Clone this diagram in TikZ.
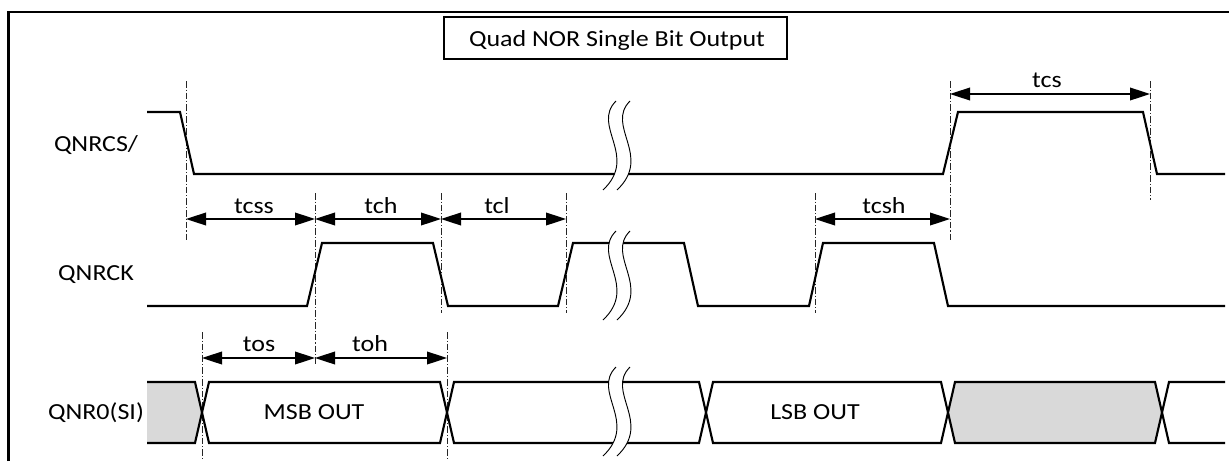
\documentclass[tikz,border=0pt]{standalone}
\usepackage{fontspec}
\setmainfont{Carlito}[FakeStretch=1.13]
\usetikzlibrary{arrows.meta}
\definecolor{busgray}{RGB}{217,217,217}
\tikzset{
  x=0.75pt, y=-0.75pt,
  sig/.style={line width=1.6pt, line join=miter},
  guide/.style={line width=0.6pt, black!85, dash pattern=on 5pt off 1.5pt on 0.8pt off 1.5pt},
  dimarrow/.style={line width=1.2pt, {Triangle[length=15pt,width=9.5pt]}-{Triangle[length=15pt,width=9.5pt]}},
  lbl/.style={anchor=base, inner sep=0pt, font=\fontsize{17.25}{20}\selectfont},
  brk/.style={line width=0.7pt},
  titlebox/.style={draw, line width=1.1pt, minimum width=343*0.75pt, minimum height=42*0.75pt, inner sep=0pt}
}
\newcommand\brkmark[2]{%
  \begin{scope}[shift={(#1,#2)}]
    \fill[white] (13,0) .. controls (-12,25) and (36,55) .. (0,89) -- (14,89) .. controls (50,55) and (2,25) .. (27,0) -- cycle;
    \draw[brk] (13,0) .. controls (-12,25) and (36,55) .. (0,89);
    \draw[brk] (27,0) .. controls (2,25) and (50,55) .. (14,89);
  \end{scope}}
\begin{document}
\begin{tikzpicture}
\useasboundingbox (0,0) rectangle (1229,461);
% frame
\draw[line width=1.6pt] (8.5,461) -- (8.5,12) -- (1229,12);
% title
\node[titlebox] (title) at (615.5,38) {};
\node[lbl] (titletext) at (617,46) {Quad NOR Single Bit Output};

% guide lines
\coordinate (g1t) at (186,81);   \coordinate (g1b) at (186,240);
\coordinate (g2t) at (315,193);  \coordinate (g2b) at (315,365);
\coordinate (g3t) at (441,193);  \coordinate (g3b) at (441,313);
\coordinate (g4t) at (566,193);  \coordinate (g4b) at (566,313);
\coordinate (g5t) at (815,193);  \coordinate (g5b) at (815,313);
\coordinate (g6t) at (950,81);   \coordinate (g6b) at (950,240);
\coordinate (g7t) at (1150,81);  \coordinate (g7b) at (1150,200);
\coordinate (g8t) at (202,332);  \coordinate (g8b) at (202,461);
\coordinate (g9t) at (447,332);  \coordinate (g9b) at (447,461);
\foreach \i in {1,...,9} { \draw[guide] (g\i t) -- (g\i b); }

% signal labels
\node[lbl] (lcs) at (96,151) {QNRCS/};
\node[lbl] (lck) at (96,280) {QNRCK};
\node[lbl] (lsi) at (96,419) {QNR0(SI)};

% QNRCS/
\draw[sig] (147,112) -- (180,112) -- (194,174) -- (943,174) -- (958,112) -- (1143,112) -- (1157,174) -- (1225,174);
% QNRCK
\draw[sig] (147,306) -- (307,306) -- (322,243) -- (433,243) -- (448,306) -- (558,306) -- (573,243)
  -- (684,243) -- (698,306) -- (809,306) -- (823,243) -- (934,243) -- (948,306) -- (1225,306);
% QNR0(SI) bus
\fill[busgray] (147,382) -- (195,382) -- (202,412.5) -- (195,443) -- (147,443) -- cycle;
\draw[sig] (147,382) -- (195,382) -- (202,412.5) -- (195,443) -- (147,443);
\draw[sig] (202,412.5) -- (209,382) -- (440,382) -- (447,412.5) -- (440,443) -- (209,443) -- cycle;
\draw[sig] (447,412.5) -- (454,382) -- (699,382) -- (706,412.5) -- (699,443) -- (454,443) -- cycle;
\draw[sig] (706,412.5) -- (713,382) -- (941,382) -- (948,412.5) -- (941,443) -- (713,443) -- cycle;
\draw[sig, fill=busgray] (948,412.5) -- (955,382) -- (1155,382) -- (1162,412.5) -- (1155,443) -- (955,443) -- cycle;
\draw[sig] (1225,382) -- (1169,382) -- (1162,412.5) -- (1169,443) -- (1225,443);
\node[lbl] (msb) at (314,419) {MSB OUT};
\node[lbl] (lsb) at (815,419) {LSB OUT};

% break marks
\brkmark{603}{101}
\brkmark{603}{231}
\brkmark{603}{367}

% timing arrows
\coordinate (a1) at (186,219); \coordinate (a2) at (315,219); \coordinate (a3) at (441,219);
\coordinate (a4) at (566,219); \coordinate (a5) at (815,219); \coordinate (a6) at (950,219);
\coordinate (b1) at (950,94);  \coordinate (b2) at (1150,94);
\coordinate (c1) at (202,358); \coordinate (c2) at (315,358); \coordinate (c3) at (447,358);
\draw[dimarrow] (a1) -- (a2);
\draw[dimarrow] (a2) -- (a3);
\draw[dimarrow] (a3) -- (a4);
\draw[dimarrow] (a5) -- (a6);
\draw[dimarrow] (b1) -- (b2);
\draw[dimarrow] (c1) -- (c2);
\draw[dimarrow] (c2) -- (c3);
\node[lbl] (tcss) at (254,213) {tcss};
\node[lbl] (tch) at (381,213) {tch};
\node[lbl] (tcl) at (497,213) {tcl};
\node[lbl] (tcsh) at (884,213) {tcsh};
\node[lbl] (tcs) at (1047,87) {tcs};
\node[lbl] (tos) at (259,351) {tos};
\node[lbl] (toh) at (370,351) {toh};
\end{tikzpicture}
\end{document}
